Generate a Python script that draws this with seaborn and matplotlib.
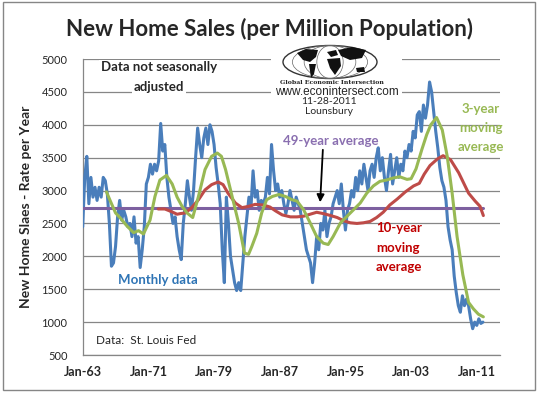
import numpy as np
import pandas as pd
import matplotlib
matplotlib.use("Agg")
import matplotlib.pyplot as plt
import seaborn as sns
from matplotlib.patches import Ellipse, Rectangle, Polygon

# ---------------- data ----------------
start_year = 1963
# quarterly samples of the monthly series, Jan-63 .. Oct-11
monthly_vals = [
    2450, 3200, 3520, 2800,   # 1963
    3200, 2900, 3050, 2850,   # 1964
    3050, 2900, 3200, 3150,   # 1965
    2950, 2500, 1850, 1900,   # 1966
    2150, 2600, 2850, 2550,   # 1967
    2700, 2600, 2450, 2500,   # 1968
    2300, 2600, 2200, 2300,   # 1969
    1830, 2100, 2450, 3100,   # 1970
    3200, 3400, 3250, 3400,   # 1971
    3300, 3450, 4020, 3600,   # 1972
    3700, 3200, 2900, 2700,   # 1973
    2500, 2600, 2300, 2100,   # 1974
    1950, 2500, 2800, 3150,   # 1975
    2900, 2700, 3000, 3500,   # 1976
    3950, 3700, 3500, 3800,   # 1977
    3950, 3700, 4000, 3900,   # 1978
    3700, 3350, 3100, 2800,   # 1979
    2100, 1600, 2900, 2500,   # 1980
    2000, 1800, 1600, 1480,   # 1981
    1600, 1480, 1900, 2300,   # 1982
    2600, 2900, 2750, 3300,   # 1983
    2900, 3000, 2700, 2850,   # 1984
    2800, 2900, 3200, 2950,   # 1985
    3700, 3300, 3000, 3100,   # 1986
    2900, 3000, 2800, 2650,   # 1987
    2800, 3000, 2850, 2700,   # 1988
    2900, 2800, 2700, 2500,   # 1989
    2300, 2100, 2000, 1900,   # 1990
    1600, 1900, 2300, 2100,   # 1991
    2500, 2400, 2700, 2300,   # 1992
    2500, 2600, 2800, 2900,   # 1993
    3000, 2800, 3100, 2700,   # 1994
    2400, 2700, 2800, 3000,   # 1995
    2900, 3200, 3000, 3300,   # 1996
    3100, 3400, 3200, 3000,   # 1997
    3300, 3400, 3200, 3500,   # 1998
    3650, 3300, 3500, 3200,   # 1999
    3000, 3300, 3550, 3100,   # 2000
    3300, 3500, 3200, 3400,   # 2001
    3300, 3600, 3500, 3700,   # 2002
    3600, 3900, 3800, 4150,   # 2003
    4200, 3900, 4300, 4100,   # 2004
    4300, 4650, 4500, 4200,   # 2005
    3900, 3650, 3350, 3150,   # 2006
    3050, 2850, 2450, 2250,   # 2007
    2100, 1700, 1450, 1250,   # 2008
    1150, 1400, 1250, 1350,   # 2009
    1250, 1050, 900, 1000,    # 2010
    950, 1050, 980, 1000,     # 2011
]

ma3_years = [1965.9, 1966.3, 1967.0, 1967.6, 1968.4, 1969.2, 1969.8, 1970.4,
             1971.2, 1971.8, 1972.4, 1973.2, 1973.9, 1974.5, 1975.1, 1975.7,
             1976.4, 1977.1, 1977.9, 1978.7, 1979.4, 1979.9, 1980.4, 1981.2,
             1982.0, 1982.7, 1983.2, 1983.6, 1984.2, 1984.8, 1985.4, 1986.1,
             1986.9, 1987.7, 1988.5, 1989.1, 1989.9, 1990.7, 1991.5, 1992.3,
             1992.9, 1993.5, 1994.4, 1995.2, 1996.0, 1996.8, 1997.6, 1998.4,
             1999.2, 2000.0, 2000.8, 2001.6, 2002.5, 2003.0, 2003.6, 2004.3,
             2004.9, 2005.4, 2006.1, 2006.8, 2007.4, 2008.0, 2008.6, 2009.3,
             2010.0, 2010.6, 2011.2, 2011.8]
ma3_vals = [2980, 2860, 2660, 2580, 2460, 2360, 2390, 2340,
            2550, 2910, 3160, 3230, 3100, 2900, 2760, 2660,
            2590, 2910, 3320, 3520, 3570, 3520, 3320, 2910,
            2500, 2050, 2030, 2150, 2350, 2660, 2860, 2910,
            2940, 2910, 2860, 2840, 2710, 2510, 2300, 2200,
            2180, 2300, 2510, 2610, 2710, 2810, 2960, 3070,
            3140, 3160, 3190, 3210, 3170, 3180, 3330, 3620,
            3850, 4000, 4110, 3920, 3520, 2960, 2300, 1720,
            1300, 1200, 1120, 1080]

ma10_years = [1972.2, 1973.0, 1973.8, 1974.5, 1974.9, 1975.5, 1976.2, 1977.1,
              1977.9, 1978.7, 1979.5, 1980.1, 1980.7, 1981.6, 1982.4, 1983.2,
              1984.0, 1985.0, 1985.8, 1986.5, 1987.3, 1988.3, 1989.1, 1989.9,
              1990.7, 1991.5, 1992.3, 1993.2, 1994.0, 1994.8, 1995.6, 1996.4,
              1997.2, 1998.0, 1998.8, 1999.6, 2000.4, 2001.3, 2002.3, 2003.3,
              2004.0, 2004.6, 2005.3, 2006.2, 2006.9, 2007.8, 2008.8, 2010.0,
              2010.8, 2011.4, 2011.8]
ma10_vals = [2720, 2720, 2680, 2640, 2650, 2660, 2730, 2860,
             3010, 3090, 3130, 3090, 2960, 2810, 2740, 2760,
             2790, 2780, 2750, 2690, 2630, 2600, 2600, 2610,
             2640, 2670, 2650, 2620, 2590, 2540, 2510, 2500,
             2510, 2530, 2590, 2670, 2780, 2870, 2980, 3070,
             3110, 3250, 3380, 3480, 3530, 3470, 3270, 2960,
             2840, 2760, 2620]

avg_years = [1963.0, 2011.75]
avg_vals = [2740, 2740]

tick_years = [1963, 1971, 1979, 1987, 1995, 2003, 2011]
tick_labels = ["Jan-63", "Jan-71", "Jan-79", "Jan-87", "Jan-95", "Jan-03", "Jan-11"]
y_ticks = [500, 1000, 1500, 2000, 2500, 3000, 3500, 4000, 4500, 5000]

# ---------------- style ----------------
sns.set_style("white")
plt.rcParams["font.family"] = ["Lato", "DejaVu Sans"]

BLUE = "#4A7EBB"
RED = "#BE4B48"
GREEN = "#98B954"
PURPLE = "#7D60A0"
GRID = "#868686"

W, H = 540, 394
def fx(x):
    return x / W
def fy(y):
    return 1 - y / H

fig = plt.figure(figsize=(5.4, 3.94), dpi=100)
fig.patch.set_facecolor("white")
ax = fig.add_axes([fx(82.7), fy(355), (500 - 82.7) / W, (355 - 59) / H])

monthly_df = pd.DataFrame({
    "year": start_year + np.arange(len(monthly_vals)) / 4.0,
    "value": monthly_vals,
})
ma3_df = pd.DataFrame({"year": ma3_years, "value": ma3_vals})
ma10_df = pd.DataFrame({"year": ma10_years, "value": ma10_vals})
avg_df = pd.DataFrame({"year": avg_years, "value": avg_vals})

lw = 2.2
sns.lineplot(data=monthly_df, x="year", y="value", ax=ax, color=BLUE, lw=lw,
             estimator=None, zorder=3)
sns.lineplot(data=avg_df, x="year", y="value", ax=ax, color=PURPLE, lw=lw,
             estimator=None, zorder=4)
sns.lineplot(data=ma10_df, x="year", y="value", ax=ax, color=RED, lw=lw,
             estimator=None, zorder=5)
sns.lineplot(data=ma3_df, x="year", y="value", ax=ax, color=GREEN, lw=lw,
             estimator=None, zorder=6)

ax.set_xlim(1963, 1963 + (500 - 82.7) / 8.21)
ax.set_ylim(500, 5000)
ax.set_xlabel("")
ax.set_ylabel("")

ax.set_yticks(y_ticks)
ax.set_yticklabels([str(v) for v in y_ticks], fontsize=8)
ax.set_xticks(tick_years)
ax.set_xticklabels(tick_labels, fontsize=9, fontweight="bold")
ax.set_xticks(np.arange(1963, 2014), minor=True)

ax.set_axisbelow(True)
ax.yaxis.grid(True, color=GRID, lw=0.9)
ax.xaxis.grid(False)
for s in ["top", "right"]:
    ax.spines[s].set_visible(False)
for s in ["left", "bottom"]:
    ax.spines[s].set_color(GRID)
    ax.spines[s].set_linewidth(0.9)

ax.tick_params(axis="y", length=0, pad=11)
ax.tick_params(axis="x", which="major", direction="inout", length=6,
               color=GRID, width=0.8, pad=5)
ax.tick_params(axis="x", which="minor", direction="in", length=3,
               color=GRID, width=0.8)

# ---------------- texts ----------------
fig.text(fx(270), fy(29), "New Home Sales (per Million Population)",
         fontsize=16, fontweight="bold", ha="center", va="center")
fig.text(fx(26), fy(207), "New Home Slaes - Rate per Year", rotation=90,
         fontsize=10, fontweight="bold", ha="center", va="center")

wb = dict(facecolor="white", edgecolor="none", pad=1.0)
fig.text(fx(159), fy(67), "Data not seasonally", fontsize=9.5,
         fontweight="bold", ha="center", va="center", bbox=wb, zorder=10)
fig.text(fx(159), fy(87), "adjusted", fontsize=9.5,
         fontweight="bold", ha="center", va="center", bbox=wb, zorder=10)

fig.text(fx(331), fy(141), "49-year average", fontsize=9.5,
         fontweight="bold", ha="center", va="center", color="#8A6FB0")
for i, t in enumerate(["3-year", "moving", "average"]):
    fig.text(fx(481), fy(109 + 19 * i), t, fontsize=9.5, fontweight="bold",
             ha="center", va="center", color=GREEN)
for i, t in enumerate(["10-year", "moving", "average"]):
    fig.text(fx(376), fy(228 + 19.5 * i), t, fontsize=9.5, fontweight="bold",
             ha="left", va="center", color="#C00000")
fig.text(fx(158), fy(280), "Monthly data", fontsize=9.5, fontweight="bold",
         ha="center", va="center", color="#2E74B5")
fig.text(fx(96), fy(341), "Data:  St. Louis Fed", fontsize=8.5,
         ha="left", va="center")

ax.annotate("", xy=(1963 + (320 - 82.7) / 8.21, 500 + (355 - 205) * 15.2),
            xytext=(1963 + (323 - 82.7) / 8.21, 500 + (355 - 147) * 15.2),
            arrowprops=dict(arrowstyle="-|>", color="black", lw=1.3,
                            mutation_scale=11), zorder=8)

# ---------------- logo ----------------
def P(x, y):
    return (fx(x), fy(y))

fig.add_artist(Rectangle(P(271, 118), 131 / W, 73 / H,
                         transform=fig.transFigure, facecolor="white",
                         edgecolor="none", zorder=9))
gcx, gcy, gw, gh = 330, 62, 94, 33
fig.add_artist(Ellipse(P(gcx, gcy), gw / W, gh / H,
                       transform=fig.transFigure, facecolor="white",
                       edgecolor="#333333", lw=1.0, zorder=10))
for wfrac in [0.8, 0.55, 0.28]:
    fig.add_artist(Ellipse(P(gcx, gcy), gw * wfrac / W, gh / H,
                           transform=fig.transFigure, facecolor="none",
                           edgecolor="#666666", lw=0.5, zorder=10))
for dy in [-10, -5, 0, 5, 10]:
    half = (gw / 2) * np.sqrt(max(0.0, 1 - (2 * dy / gh) ** 2))
    fig.add_artist(Rectangle(P(gcx - half, gcy + dy), 2 * half / W, 0.0008,
                             transform=fig.transFigure, facecolor="#666666",
                             edgecolor="none", zorder=10))
continents = [
    [(297, 53), (306, 49), (318, 50), (316, 57), (310, 62), (303, 60)],   # N America
    [(309, 64), (316, 64), (314, 74), (311, 78)],                         # S America
    [(327, 52), (336, 50), (338, 55), (331, 57)],                         # Europe
    [(327, 59), (340, 58), (341, 66), (335, 75), (330, 68)],              # Africa
    [(338, 50), (352, 47), (366, 50), (362, 58), (350, 60), (341, 56)],   # Asia
    [(356, 68), (364, 67), (365, 72), (357, 72)],                         # Australia
]
for poly in continents:
    fig.add_artist(Polygon([P(x, y) for x, y in poly], closed=True,
                           transform=fig.transFigure, facecolor="#111111",
                           edgecolor="none", zorder=11))
fig.text(fx(332), fy(83), "Global Economic Intersection", fontsize=4.5,
         fontweight="bold", family=["DejaVu Serif"], ha="center", va="center",
         zorder=12)
fig.text(fx(337), fy(92), "www.econintersect.com", fontsize=8.5,
         family=["Liberation Sans"], ha="center", va="center", zorder=12)
fig.text(fx(329), fy(102), "11-28-2011", fontsize=7.5, ha="center",
         va="center", zorder=12)
fig.text(fx(329), fy(112), "Lounsbury", fontsize=7.5, ha="center",
         va="center", zorder=12)

# border
fig.add_artist(Rectangle(P(3, 390), 532 / W, 388 / H,
                         transform=fig.transFigure, fill=False,
                         edgecolor=GRID, lw=1.0, zorder=20))

fig.savefig("out.png", dpi=100)
